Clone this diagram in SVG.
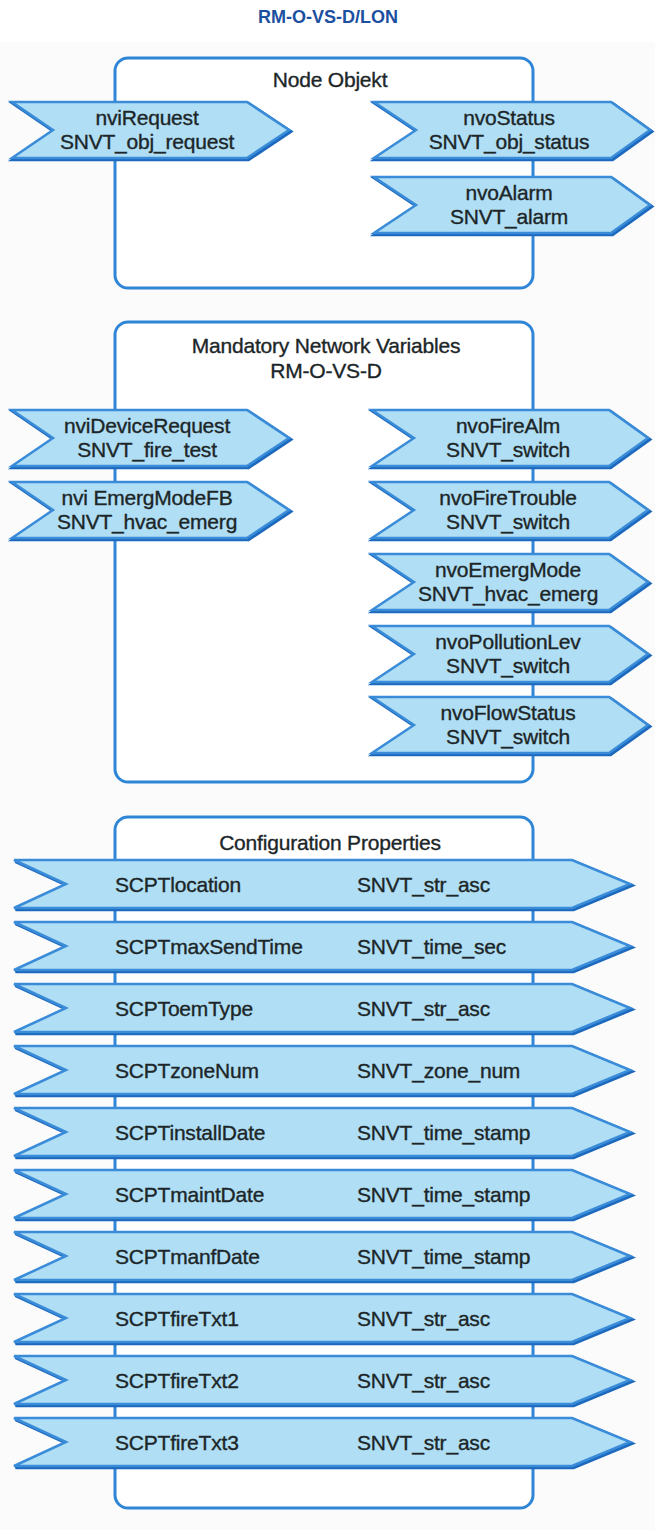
<svg xmlns="http://www.w3.org/2000/svg" xmlns:xlink="http://www.w3.org/1999/xlink" width="655" height="1530" viewBox="0 0 655 1530">
<style>
.bg{fill:#fbfbfc}
.box{fill:#ffffff;stroke:#2f86d6;stroke-width:3}
.sh{fill:none;stroke:#1c69bd;stroke-width:3.5;stroke-linejoin:miter}
.nv{fill:#b0def4;stroke:#3a8cd9;stroke-width:2.5;stroke-linejoin:miter}
.t{font-family:"Liberation Sans",Arial,sans-serif;font-size:21px;fill:#1c2628;stroke:#1c2628;stroke-width:0.35px;letter-spacing:-0.2px}
.c{text-anchor:middle}
.title{font-family:"Liberation Sans",Arial,sans-serif;font-size:18px;font-weight:bold;fill:#1b4f9f;text-anchor:middle}
</style>
<defs>
<polygon id="nvL" points="0,0 235,0 277,28 235,56 0,56 41,28"/>
<polygon id="nvR" points="0,0 237,0 276,28 237,56 0,56 42,28"/>
<polygon id="cp" points="0,0 558,0 616,24 558,48 0,48 52,24"/>
</defs>
<rect x="0" y="0" width="655" height="1530" fill="#ffffff"/>
<rect class="bg" x="0" y="42" width="655" height="1488"/>
<text class="title" x="328" y="23">RM-O-VS-D/LON</text>

<g id="box-node-objekt">
<rect class="box" x="115" y="58" width="418" height="230" rx="13"/>
<text class="t c" x="330" y="87">Node Objekt</text>
</g>
<g id="box-mandatory">
<rect class="box" x="115" y="322" width="418" height="460" rx="13"/>
<text class="t c" x="326" y="353">Mandatory Network Variables</text>
<text class="t c" x="326" y="378">RM-O-VS-D</text>
</g>
<g id="box-config">
<rect class="box" x="115" y="817" width="418" height="691" rx="13"/>
<text class="t c" x="330" y="850">Configuration Properties</text>
</g>

<g id="connectors"></g>

<g id="nviRequest">
<use href="#nvL" class="sh" x="13.5" y="103.5"/>
<use href="#nvL" class="nv" x="12" y="102"/>
<text class="t c" x="147" y="125">nviRequest</text>
<text class="t c" x="147" y="149">SNVT_obj_request</text>
</g>
<g id="nvoStatus">
<use href="#nvR" class="sh" x="375.5" y="103.5"/>
<use href="#nvR" class="nv" x="374" y="102"/>
<text class="t c" x="509" y="125">nvoStatus</text>
<text class="t c" x="509" y="149">SNVT_obj_status</text>
</g>
<g id="nvoAlarm">
<use href="#nvR" class="sh" x="375.5" y="178.5"/>
<use href="#nvR" class="nv" x="374" y="177"/>
<text class="t c" x="509" y="200">nvoAlarm</text>
<text class="t c" x="509" y="224">SNVT_alarm</text>
</g>

<g id="nviDeviceRequest">
<use href="#nvL" class="sh" x="13.5" y="411.5"/>
<use href="#nvL" class="nv" x="12" y="410"/>
<text class="t c" x="147" y="433">nviDeviceRequest</text>
<text class="t c" x="147" y="457">SNVT_fire_test</text>
</g>
<g id="nviEmergModeFB">
<use href="#nvL" class="sh" x="13.5" y="483.5"/>
<use href="#nvL" class="nv" x="12" y="482"/>
<text class="t c" x="147" y="505">nvi EmergModeFB</text>
<text class="t c" x="147" y="529">SNVT_hvac_emerg</text>
</g>
<g id="nvoFireAlm">
<use href="#nvR" class="sh" x="373.5" y="411.5"/>
<use href="#nvR" class="nv" x="372" y="410"/>
<text class="t c" x="508" y="433">nvoFireAlm</text>
<text class="t c" x="508" y="457">SNVT_switch</text>
</g>
<g id="nvoFireTrouble">
<use href="#nvR" class="sh" x="373.5" y="483.5"/>
<use href="#nvR" class="nv" x="372" y="482"/>
<text class="t c" x="508" y="505">nvoFireTrouble</text>
<text class="t c" x="508" y="529">SNVT_switch</text>
</g>
<g id="nvoEmergMode">
<use href="#nvR" class="sh" x="373.5" y="555.5"/>
<use href="#nvR" class="nv" x="372" y="554"/>
<text class="t c" x="508" y="577">nvoEmergMode</text>
<text class="t c" x="508" y="601">SNVT_hvac_emerg</text>
</g>
<g id="nvoPollutionLev">
<use href="#nvR" class="sh" x="373.5" y="627.5"/>
<use href="#nvR" class="nv" x="372" y="626"/>
<text class="t c" x="508" y="649">nvoPollutionLev</text>
<text class="t c" x="508" y="673">SNVT_switch</text>
</g>
<g id="nvoFlowStatus">
<use href="#nvR" class="sh" x="373.5" y="698.5"/>
<use href="#nvR" class="nv" x="372" y="697"/>
<text class="t c" x="508" y="720">nvoFlowStatus</text>
<text class="t c" x="508" y="744">SNVT_switch</text>
</g>

<g id="SCPTlocation">
<use href="#cp" class="sh" x="15.5" y="861.5"/>
<use href="#cp" class="nv" x="14" y="860"/>
<text class="t" x="115" y="892">SCPTlocation</text>
<text class="t" x="357" y="892">SNVT_str_asc</text>
</g>
<g id="SCPTmaxSendTime">
<use href="#cp" class="sh" x="15.5" y="923.5"/>
<use href="#cp" class="nv" x="14" y="922"/>
<text class="t" x="115" y="954">SCPTmaxSendTime</text>
<text class="t" x="357" y="954">SNVT_time_sec</text>
</g>
<g id="SCPToemType">
<use href="#cp" class="sh" x="15.5" y="985.5"/>
<use href="#cp" class="nv" x="14" y="984"/>
<text class="t" x="115" y="1016">SCPToemType</text>
<text class="t" x="357" y="1016">SNVT_str_asc</text>
</g>
<g id="SCPTzoneNum">
<use href="#cp" class="sh" x="15.5" y="1047.5"/>
<use href="#cp" class="nv" x="14" y="1046"/>
<text class="t" x="115" y="1078">SCPTzoneNum</text>
<text class="t" x="357" y="1078">SNVT_zone_num</text>
</g>
<g id="SCPTinstallDate">
<use href="#cp" class="sh" x="15.5" y="1109.5"/>
<use href="#cp" class="nv" x="14" y="1108"/>
<text class="t" x="115" y="1140">SCPTinstallDate</text>
<text class="t" x="357" y="1140">SNVT_time_stamp</text>
</g>
<g id="SCPTmaintDate">
<use href="#cp" class="sh" x="15.5" y="1171.5"/>
<use href="#cp" class="nv" x="14" y="1170"/>
<text class="t" x="115" y="1202">SCPTmaintDate</text>
<text class="t" x="357" y="1202">SNVT_time_stamp</text>
</g>
<g id="SCPTmanfDate">
<use href="#cp" class="sh" x="15.5" y="1233.5"/>
<use href="#cp" class="nv" x="14" y="1232"/>
<text class="t" x="115" y="1264">SCPTmanfDate</text>
<text class="t" x="357" y="1264">SNVT_time_stamp</text>
</g>
<g id="SCPTfireTxt1">
<use href="#cp" class="sh" x="15.5" y="1295.5"/>
<use href="#cp" class="nv" x="14" y="1294"/>
<text class="t" x="115" y="1326">SCPTfireTxt1</text>
<text class="t" x="357" y="1326">SNVT_str_asc</text>
</g>
<g id="SCPTfireTxt2">
<use href="#cp" class="sh" x="15.5" y="1357.5"/>
<use href="#cp" class="nv" x="14" y="1356"/>
<text class="t" x="115" y="1388">SCPTfireTxt2</text>
<text class="t" x="357" y="1388">SNVT_str_asc</text>
</g>
<g id="SCPTfireTxt3">
<use href="#cp" class="sh" x="15.5" y="1419.5"/>
<use href="#cp" class="nv" x="14" y="1418"/>
<text class="t" x="115" y="1450">SCPTfireTxt3</text>
<text class="t" x="357" y="1450">SNVT_str_asc</text>
</g>
</svg>
